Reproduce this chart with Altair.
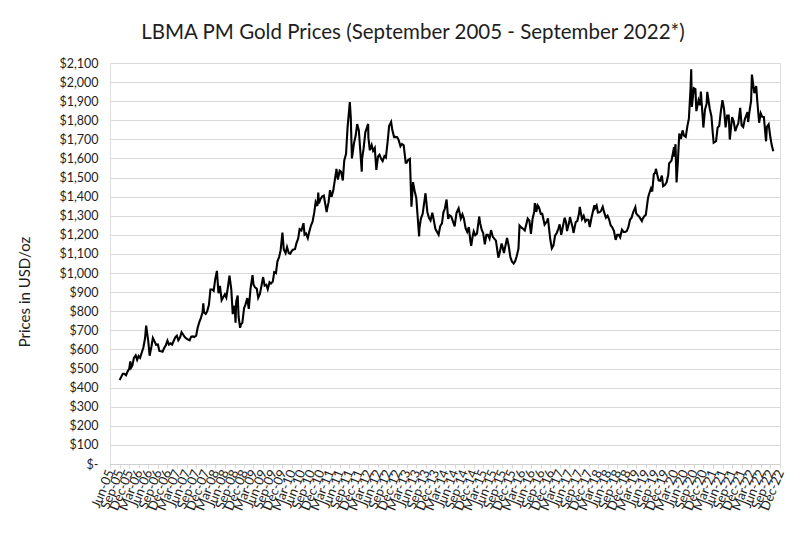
import altair as alt
import pandas as pd

dates = [
 "2005-09-01","2005-09-15","2005-10-01","2005-10-15","2005-11-01","2005-11-15","2005-12-01","2005-12-12","2005-12-20",
 "2006-01-01","2006-01-15","2006-02-01","2006-02-15","2006-03-01","2006-03-15","2006-04-01","2006-04-15","2006-05-01","2006-05-12","2006-05-20",
 "2006-06-01","2006-06-14","2006-07-01","2006-07-15","2006-08-01","2006-08-15","2006-09-01","2006-09-15","2006-10-01","2006-10-15",
 "2006-11-01","2006-11-15","2006-12-01","2006-12-15",
 "2007-01-01","2007-01-15","2007-02-01","2007-02-15","2007-03-01","2007-03-15","2007-04-01","2007-04-15","2007-05-01","2007-05-15",
 "2007-06-01","2007-06-15","2007-07-01","2007-07-15","2007-08-01","2007-08-15","2007-09-01","2007-09-15","2007-10-01","2007-10-15",
 "2007-11-01","2007-11-08","2007-11-15","2007-12-01","2007-12-15",
 "2008-01-01","2008-01-15","2008-02-01","2008-02-15","2008-03-01","2008-03-17","2008-04-01","2008-04-15","2008-05-01","2008-05-15",
 "2008-06-01","2008-06-15","2008-07-01","2008-07-15","2008-08-01","2008-08-15","2008-09-01","2008-09-11","2008-09-17","2008-10-01","2008-10-10",
 "2008-10-24","2008-11-01","2008-11-15","2008-12-01","2008-12-15",
 "2009-01-01","2009-01-15","2009-02-01","2009-02-20","2009-03-01","2009-03-15","2009-04-01","2009-04-15","2009-05-01","2009-05-15",
 "2009-06-01","2009-06-15","2009-07-01","2009-07-15","2009-08-01","2009-08-15","2009-09-01","2009-09-15","2009-10-01","2009-10-15",
 "2009-11-01","2009-11-15","2009-12-02","2009-12-15",
 "2010-01-01","2010-01-15","2010-02-01","2010-02-15","2010-03-01","2010-03-15","2010-04-01","2010-04-15","2010-05-01","2010-05-15",
 "2010-06-01","2010-06-21","2010-07-01","2010-07-15","2010-08-01","2010-08-15","2010-09-01","2010-09-15","2010-10-01","2010-10-15",
 "2010-11-01","2010-11-09","2010-11-15","2010-12-01","2010-12-15",
 "2011-01-01","2011-01-28","2011-02-01","2011-02-15","2011-03-01","2011-03-15","2011-04-01","2011-04-29","2011-05-01","2011-05-15",
 "2011-06-01","2011-06-15","2011-07-01","2011-07-15","2011-08-01","2011-08-15","2011-09-06","2011-09-15","2011-09-26","2011-10-01",
 "2011-10-15","2011-11-01","2011-11-15","2011-12-01","2011-12-29",
 "2012-01-01","2012-01-15","2012-02-01","2012-02-28","2012-03-01","2012-03-15","2012-04-01","2012-04-15","2012-05-01","2012-05-16",
 "2012-06-01","2012-06-15","2012-07-01","2012-07-15","2012-08-01","2012-08-15","2012-09-01","2012-09-15","2012-10-04","2012-10-15",
 "2012-11-01","2012-11-15","2012-12-01","2012-12-15",
 "2013-01-01","2013-01-15","2013-02-01","2013-02-20","2013-03-01","2013-03-15","2013-04-01","2013-04-16","2013-05-01","2013-05-15",
 "2013-06-01","2013-06-28","2013-07-01","2013-07-15","2013-08-01","2013-08-28","2013-09-01","2013-09-15","2013-10-01","2013-10-15",
 "2013-11-01","2013-11-15","2013-12-01","2013-12-31",
 "2014-01-15","2014-02-01","2014-02-15","2014-03-01","2014-03-17","2014-04-01","2014-04-15","2014-05-01","2014-05-30","2014-06-02",
 "2014-06-20","2014-07-10","2014-07-31","2014-08-15","2014-08-29","2014-09-15","2014-09-30","2014-10-15","2014-10-31","2014-11-07",
 "2014-11-20","2014-12-01","2014-12-15",
 "2015-01-01","2015-01-22","2015-02-01","2015-02-15","2015-03-01","2015-03-17","2015-04-01","2015-04-15","2015-05-01","2015-05-15",
 "2015-06-01","2015-06-15","2015-07-01","2015-07-24","2015-08-01","2015-08-24","2015-09-01","2015-09-15","2015-10-15","2015-10-31",
 "2015-11-15","2015-11-30","2015-12-17","2015-12-31",
 "2016-01-15","2016-02-01","2016-02-11","2016-03-01","2016-03-15","2016-04-01","2016-04-29","2016-05-15","2016-05-30","2016-06-15",
 "2016-06-30","2016-07-06","2016-07-20","2016-08-01","2016-08-15","2016-09-01","2016-09-15","2016-10-07","2016-10-31","2016-11-08",
 "2016-11-30","2016-12-15","2016-12-31",
 "2017-01-15","2017-01-31","2017-02-15","2017-02-28","2017-03-15","2017-03-31","2017-04-17","2017-04-30","2017-05-09","2017-05-31",
 "2017-06-06","2017-06-30","2017-07-10","2017-07-31","2017-08-15","2017-08-31","2017-09-08","2017-09-29","2017-10-15","2017-10-31",
 "2017-11-15","2017-11-30","2017-12-12","2017-12-29",
 "2018-01-25","2018-01-31","2018-02-15","2018-02-28","2018-03-15","2018-03-30","2018-04-15","2018-04-30","2018-05-15","2018-05-31",
 "2018-06-15","2018-06-29","2018-07-15","2018-07-31","2018-08-16","2018-08-31","2018-09-15","2018-09-28","2018-10-15","2018-10-31",
 "2018-11-15","2018-11-30","2018-12-15","2018-12-31",
 "2019-01-15","2019-01-31","2019-02-20","2019-02-28","2019-03-15","2019-03-29","2019-04-23","2019-04-30","2019-05-15","2019-05-31",
 "2019-06-20","2019-06-28","2019-07-19","2019-07-31","2019-08-15","2019-08-30","2019-09-04","2019-09-30","2019-10-15","2019-10-31",
 "2019-11-12","2019-11-29","2019-12-15","2019-12-31",
 "2020-01-08","2020-01-31","2020-02-24","2020-02-28","2020-03-09","2020-03-19","2020-03-31","2020-04-14","2020-04-30","2020-05-15",
 "2020-05-29","2020-06-15","2020-06-30","2020-07-15","2020-07-31","2020-08-06","2020-08-12","2020-08-31","2020-09-15","2020-09-24",
 "2020-10-15","2020-10-30","2020-11-06","2020-11-30","2020-12-15","2020-12-31",
 "2021-01-06","2021-01-29","2021-02-15","2021-02-26","2021-03-08","2021-03-31","2021-04-15","2021-04-30","2021-05-14","2021-05-31",
 "2021-06-15","2021-06-30","2021-07-15","2021-07-30","2021-08-09","2021-08-31","2021-09-15","2021-09-30","2021-10-15","2021-10-29",
 "2021-11-16","2021-11-30","2021-12-15","2021-12-31",
 "2022-01-25","2022-01-31","2022-02-15","2022-02-28","2022-03-08","2022-03-31","2022-04-18","2022-04-29","2022-05-16","2022-05-31",
 "2022-06-15","2022-06-30","2022-07-21","2022-07-29","2022-08-15","2022-08-31","2022-09-15","2022-09-28",
]

prices = [
 440,455,473,473,465,484,498,537,505,
 517,556,569,545,565,556,585,609,657,725,690,
 643,567,614,660,641,624,626,592,590,588,
 609,621,646,625,
 632,626,648,665,672,648,663,690,677,665,
 656,652,648,667,668,665,672,712,743,762,
 794,841,793,786,800,
 834,914,914,907,968,1011,894,933,858,872,
 889,872,930,986,915,785,829,740,850,882,770,
 713,730,740,816,836,
 869,812,920,989,940,925,919,870,890,930,
 979,934,939,915,952,945,955,1005,1000,1060,
 1085,1120,1212,1123,
 1104,1136,1104,1101,1116,1123,1125,1157,1180,1230,
 1223,1261,1201,1207,1183,1216,1250,1268,1315,1372,
 1351,1421,1365,1388,1400,
 1405,1319,1335,1370,1434,1399,1432,1535,1545,1490,
 1536,1530,1485,1590,1624,1760,1895,1815,1600,1620,
 1678,1720,1780,1747,1531,
 1598,1650,1737,1781,1711,1643,1671,1640,1655,1540,
 1611,1620,1598,1586,1612,1605,1690,1770,1791,1750,
 1712,1713,1711,1696,
 1664,1676,1669,1578,1578,1592,1598,1348,1476,1433,
 1393,1192,1234,1285,1310,1418,1395,1318,1288,1275,
 1316,1277,1230,1201,
 1245,1260,1318,1338,1385,1284,1302,1295,1250,1244,
 1315,1339,1285,1307,1285,1234,1216,1241,1164,1142,
 1190,1218,1198,
 1206,1296,1260,1227,1210,1150,1200,1200,1180,1225,
 1190,1180,1170,1081,1095,1155,1140,1105,1184,1142,
 1085,1061,1050,1062,
 1088,1128,1249,1238,1232,1223,1285,1274,1205,1286,
 1320,1366,1320,1355,1344,1310,1310,1253,1272,1286,
 1178,1129,1145,
 1196,1210,1232,1255,1200,1245,1290,1265,1220,1268,
 1293,1243,1210,1267,1272,1310,1346,1283,1300,1270,
 1280,1278,1241,1291,
 1355,1340,1354,1317,1318,1325,1347,1315,1290,1300,
 1280,1250,1240,1220,1174,1200,1200,1187,1227,1215,
 1215,1220,1240,1279,
 1290,1319,1345,1313,1302,1295,1272,1283,1296,1305,
 1390,1409,1443,1427,1517,1528,1546,1485,1483,1510,
 1455,1461,1475,1515,
 1574,1589,1659,1609,1675,1474,1577,1730,1702,1747,
 1720,1713,1768,1810,1971,2067,1870,1968,1963,1848,
 1905,1879,1951,1762,1855,1887,
 1949,1863,1820,1743,1683,1691,1762,1770,1840,1905,
 1860,1763,1825,1825,1699,1816,1795,1743,1767,1783,
 1865,1774,1765,1806,
 1843,1791,1855,1900,2039,1942,1979,1896,1787,1837,
 1818,1817,1690,1765,1779,1711,1665,1638,
]

y_ticks = list(range(0, 2200, 100))
x_start = "2005-06-01"
x_end = "2022-12-01"

tick_dates = []
y, m = 2005, 6
while (y, m) <= (2022, 12):
    tick_dates.append(f"{y:04d}-{m:02d}-01")
    m += 3
    if m > 12:
        m -= 12
        y += 1

def ms(s):
    return int(pd.Timestamp(s, tz="UTC").value // 10**6)

df = pd.DataFrame({"date": dates, "price": prices})

FONT = "Lato"
TXT = "#1e1e1e"

line = alt.Chart(df).mark_line(color="#000000", strokeWidth=2.1, strokeJoin="miter").encode(
    x=alt.X("date:T",
            scale=alt.Scale(type="utc", domain=[ms(x_start), ms(x_end)], nice=False),
            axis=alt.Axis(values=[ms(d) for d in tick_dates],
                          labelExpr="utcFormat(datum.value, '%b-%y')",
                          labelAngle=-68, labelFontSize=13, labelFont=FONT,
                          labelColor=TXT, labelPadding=2, labelOverlap=False,
                          labelBound=False, labelFlush=False,
                          ticks=True, tickSize=4, tickColor="#d9d9d9",
                          domain=True, domainColor="#d0d0d0", domainWidth=1,
                          grid=False, title=None)),
    y=alt.Y("price:Q",
            scale=alt.Scale(domain=[0, 2100], nice=False, zero=True),
            axis=alt.Axis(values=y_ticks,
                          labelExpr="datum.value == 0 ? '$-' : '$' + format(datum.value, ',')",
                          labelFontSize=12.5, labelFont=FONT, labelColor=TXT,
                          labelPadding=12, ticks=False, domain=False,
                          grid=True, gridColor="#d9d9d9", gridWidth=1,
                          title=None)),
)

title_df = pd.DataFrame({"t": ["LBMA PM Gold Prices (September 2005 - September 2022*)"]})
title = alt.Chart(title_df).mark_text(
    font=FONT, fontSize=20.5, color=TXT, align="center", baseline="alphabetic"
).encode(text="t:N", x=alt.value(303), y=alt.value(-24))

ytitle_df = pd.DataFrame({"t": ["Prices in USD/oz"]})
ytitle = alt.Chart(ytitle_df).mark_text(
    font=FONT, fontSize=15, color=TXT, align="center", baseline="middle", angle=270
).encode(text="t:N", x=alt.value(-85), y=alt.value(229))

chart = alt.layer(line, title, ytitle).properties(
    width=670, height=401,
    autosize=alt.AutoSizeParams(type="none"),
    padding={"left": 102, "top": 55, "right": 12, "bottom": 85},
).configure_view(stroke=None).configure(background="#ffffff")

chart.save("out.html", embed_options={"renderer": "svg", "actions": False})
